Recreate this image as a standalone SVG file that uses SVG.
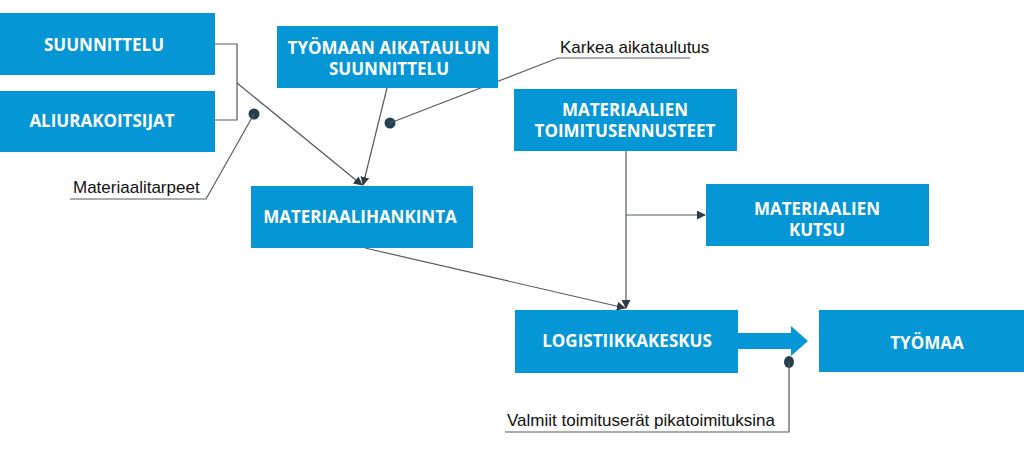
<svg xmlns="http://www.w3.org/2000/svg" width="1024" height="467" viewBox="0 0 1024 467">
<defs>
<style>
.box{fill:#0596d6}
.bt{fill:#fff;font-family:"Open Sans","DejaVu Sans",sans-serif;font-weight:700;font-size:17px;text-anchor:middle;dominant-baseline:central}
.lbl{fill:#111;font-family:"Liberation Sans",Arial,sans-serif;font-size:17px}
.ln{fill:none;stroke:#555a5e;stroke-width:1.2}
.dot{fill:#263f4f}
</style>
<marker id="ah" viewBox="0 0 10 10" refX="9" refY="5" markerWidth="9" markerHeight="9" markerUnits="userSpaceOnUse" orient="auto">
<path d="M0,0 L10,5 L0,10 z" fill="#2c3b46"/>
</marker>
</defs>
<rect width="1024" height="467" fill="#fff"/>
<g id="connectors">
<path class="ln" d="M215,44 H237 V120 H215"/>
<path class="ln" d="M237,83 L362,185" marker-end="url(#ah)"/>
<path class="ln" d="M387,88 L363,185" marker-end="url(#ah)"/>
<path class="ln" d="M365,248 L625,308" marker-end="url(#ah)"/>
<path class="ln" d="M626,151 V308" marker-end="url(#ah)"/>
<path class="ln" d="M626,215 H705" marker-end="url(#ah)"/>
<path d="M738,333 H791 V326 L808,341 L791,356 V349 H738 z" fill="#0596d6"/>
</g>
<g id="callouts">
<circle class="dot" cx="254" cy="114" r="5.5"/>
<path class="ln" d="M254,114 L206,199 H70"/>
<text class="lbl" x="73" y="193">Materiaalitarpeet</text>
<circle class="dot" cx="390" cy="123" r="5.5"/>
<path class="ln" d="M390,123 L558,58 H690"/>
<text class="lbl" x="560" y="53">Karkea aikataulutus</text>
<ellipse class="dot" cx="789" cy="362" rx="5" ry="6"/>
<path class="ln" d="M789,362 V432 H505"/>
<text class="lbl" x="507" y="426">Valmiit toimituserät pikatoimituksina</text>
</g>
<g id="n-suunnittelu"><rect class="box" x="0" y="13" width="215" height="62"/><text class="bt" x="104" y="44">SUUNNITTELU</text></g>
<g id="n-aliurakoitsijat"><rect class="box" x="0" y="91" width="215" height="61"/><text class="bt" x="102" y="120">ALIURAKOITSIJAT</text></g>
<g id="n-tyomaan-aikataulun"><rect class="box" x="277" y="26" width="221" height="62"/><text class="bt" x="389" y="47">TYÖMAAN AIKATAULUN</text><text class="bt" x="389" y="68">SUUNNITTELU</text></g>
<g id="n-materiaalihankinta"><rect class="box" x="251" y="186" width="222" height="62"/><text class="bt" x="360" y="216">MATERIAALIHANKINTA</text></g>
<g id="n-toimitusennusteet"><rect class="box" x="514" y="89" width="223" height="62"/><text class="bt" x="625" y="109">MATERIAALIEN</text><text class="bt" x="625" y="130">TOIMITUSENNUSTEET</text></g>
<g id="n-kutsu"><rect class="box" x="706" y="184" width="223" height="62"/><text class="bt" x="817" y="208">MATERIAALIEN</text><text class="bt" x="817" y="229">KUTSU</text></g>
<g id="n-logistiikkakeskus"><rect class="box" x="515" y="310" width="223" height="63"/><text class="bt" x="627" y="340">LOGISTIIKKAKESKUS</text></g>
<g id="n-tyomaa"><rect class="box" x="819" y="310" width="205" height="62"/><text class="bt" x="927" y="342">TYÖMAA</text></g>
</svg>
